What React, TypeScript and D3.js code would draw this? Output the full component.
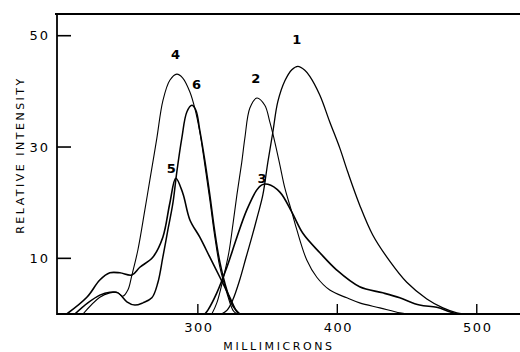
import * as d3 from "d3";

// wavelength (millimicrons), relative intensity
const curve1 = [[317, 0], [321, 0.7], [325, 2.5], [330, 6.1], [334.5, 10.1], [338.7, 13.8], [343, 17.8], [346.6, 21.4], [350.2, 27.3], [353.8, 32.7], [357.3, 38.1], [362.4, 41.9], [367.4, 43.9], [371.7, 44.5], [376.7, 43.8], [380.3, 42.7], [387.5, 39.3], [394.6, 34.5], [401.8, 29.8], [407.5, 25.5], [416, 19.6], [425.4, 14.2], [437.6, 9.5], [449.8, 5.7], [464.2, 2.7], [475.7, 1.1], [485.7, 0.2], [490, 0]];
const curve2 = [[310, 0], [313.6, 2.0], [317.9, 6.1], [322.2, 11.0], [325.1, 16.0], [328, 21.4], [331.5, 27.3], [333.7, 31.6], [337.3, 37.0], [342.3, 38.8], [348, 37.5], [351.6, 34.5], [355.2, 30.9], [358.8, 26.8], [362.4, 22.6], [367.4, 18.3], [371, 15.1], [378.1, 9.7], [385.3, 6.6], [394.6, 4.3], [406.8, 2.9], [416, 2.0], [430.5, 1.1], [444.8, 0.2], [450, 0]];
const curve3 = [[305, 0], [307.2, 0.7], [313.6, 3.8], [320.8, 8.4], [328, 13.8], [335.1, 18.7], [342.3, 22.3], [345.9, 23.2], [350.2, 23.3], [358.8, 21.9], [367.4, 18.3], [375.3, 14.5], [387.5, 11.0], [399.6, 7.9], [416, 4.9], [432.6, 3.8], [444.8, 2.9], [459, 1.6], [471.3, 1.2], [480.6, 0.4], [485.7, 0]];
const curve4 = [[217.6, 0], [229.7, 3.0], [236.9, 3.8], [241.9, 3.9], [246.2, 3.2], [249.8, 4.3], [252.7, 7.0], [257, 11.5], [262, 18.7], [265.6, 24.1], [270.6, 31.6], [274.9, 38.3], [279.9, 42.0], [284.9, 43.1], [289.2, 42.4], [294.3, 39.9], [297.8, 37.0], [301.4, 32.7], [305, 26.8], [308.6, 20.5], [312.2, 13.8], [315.8, 8.4], [320.8, 3.8], [325.1, 0.7], [328, 0]];
const curve5 = [[206, 0], [220.4, 3.0], [229.7, 6.1], [236.9, 7.4], [244.1, 7.4], [252.7, 7.0], [258.4, 8.4], [267.7, 10.2], [274.9, 13.8], [279.9, 19.9], [284.2, 24.4], [289.2, 21.7], [294.3, 16.9], [301.4, 13.8], [308.6, 10.2], [315.8, 6.6], [322.9, 3.0], [328, 0.4], [330, 0]];
const curve6 = [[211.8, 0], [221.1, 2.0], [229.7, 3.4], [236.9, 3.9], [242.7, 3.8], [249.1, 2.2], [254.8, 1.6], [260.6, 2.0], [267, 2.9], [271.3, 5.6], [274.9, 10.2], [278.5, 15.1], [282.1, 19.9], [284.9, 25.5], [288.5, 31.6], [292.1, 36.3], [295.7, 37.5], [298.6, 36.6], [301.4, 33.0], [305, 27.6], [308.6, 21.4], [312.2, 14.7], [315.8, 9.3], [320.8, 4.3], [325.1, 1.4], [330.1, 0]];

const curves = [
  { name: "1", data: curve1, w: 1.3, label: [371, 48.5] },
  { name: "2", data: curve2, w: 1.1, label: [341.5, 41.5] },
  { name: "3", data: curve3, w: 1.6, label: [346, 23.5] },
  { name: "4", data: curve4, w: 1.1, label: [284, 45.8] },
  { name: "5", data: curve5, w: 1.6, label: [281, 25.3] },
  { name: "6", data: curve6, w: 1.5, label: [299, 40.5] },
];

const xTicks = [300, 400, 500];
const yTicks = [10, 30, 50];

export default function App() {
  const x = d3.scaleLinear().domain([199, 531]).range([57, 520]);
  const y = d3.scaleLinear().domain([0, 53.9]).range([314, 14]);
  const line = d3.line<number[]>().x(d => x(d[0])).y(d => y(d[1])).curve(d3.curveCatmullRom.alpha(0.5));
  const font = "'DejaVu Sans', sans-serif";

  return (
    <svg width={520} height={352} style={{ position: "absolute", left: 0, top: 0, background: "#fff" }}>
      <defs>
        <clipPath id="plot"><rect x={57} y={14} width={463} height={300} /></clipPath>
      </defs>
      {/* frame */}
      <line x1={55} x2={520} y1={14} y2={14} stroke="#000" strokeWidth={1.8} />
      <line x1={57} x2={57} y1={14} y2={315} stroke="#000" strokeWidth={1.8} />
      <line x1={57} x2={520} y1={314} y2={314} stroke="#000" strokeWidth={1.8} />

      {yTicks.map(t => (
        <g key={t}>
          <line x1={57} x2={71} y1={y(t)} y2={y(t)} stroke="#000" strokeWidth={1.6} />
          <text x={50} y={y(t) + 4.5} textAnchor="end" fontSize={13} fontFamily={font} letterSpacing={2}>{t}</text>
        </g>
      ))}
      {xTicks.map(t => (
        <g key={t}>
          <line x1={x(t)} x2={x(t)} y1={314} y2={304} stroke="#000" strokeWidth={1.4} />
          <text x={x(t) + 1} y={332} textAnchor="middle" fontSize={13} fontFamily={font} letterSpacing={1.5}>{t}</text>
        </g>
      ))}

      <g clipPath="url(#plot)">
        {curves.map(c => (
          <path key={c.name} d={line(c.data as number[][]) || ""} fill="none" stroke="#000" strokeWidth={c.w} />
        ))}
      </g>
      {curves.map(c => (
        <text key={"l" + c.name} x={x(c.label[0])} y={y(c.label[1])} textAnchor="middle" fontSize={13} fontWeight="bold" fontFamily={font}>
          {c.name}
        </text>
      ))}

      <text x={279} y={350} textAnchor="middle" fontSize={11} fontFamily={font} letterSpacing={2.6}>MILLIMICRONS</text>
      <text transform="translate(24,155) rotate(-90)" textAnchor="middle" fontSize={11} fontFamily={font} letterSpacing={2.5}>RELATIVE INTENSITY</text>
    </svg>
  );
}
